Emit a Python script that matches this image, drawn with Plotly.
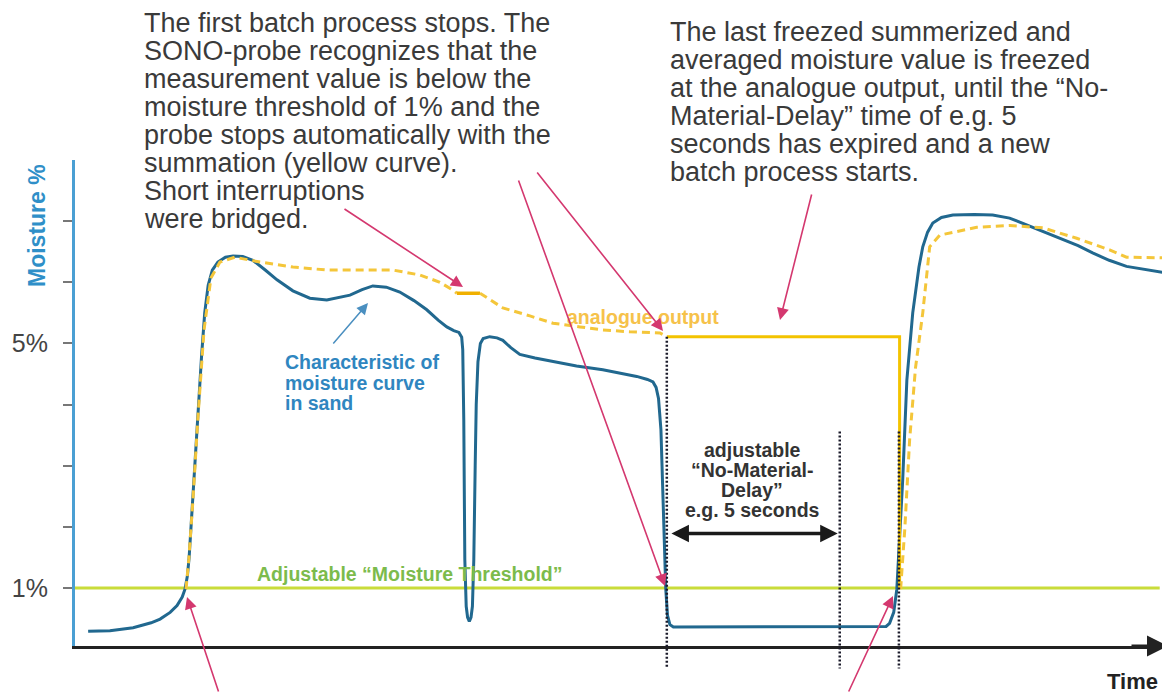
import plotly.graph_objects as go

# ---------------- data (time in seconds, moisture in %) ----------------
blue_t = [0.38, 1.01, 1.68, 2.2, 2.46, 2.75, 2.95, 3.10, 3.18, 3.25, 3.30, 3.38, 3.53, 3.66, 3.75, 3.85,
          3.97, 4.13, 4.35, 4.57, 4.85, 5.14, 5.5, 5.84, 6.3, 6.79, 7.28, 7.95, 8.3, 8.61, 9.0, 9.39,
          9.8, 10.17, 10.5, 10.75, 10.95, 11.10, 11.18, 11.21, 11.24, 11.27, 11.31, 11.35, 11.40, 11.45,
          11.49, 11.53, 11.57, 11.60, 11.65, 11.72, 11.80, 11.99, 12.2, 12.37, 12.6, 12.86, 13.3, 13.82,
          14.5, 15.26, 15.8, 16.24, 16.55, 16.71, 16.80, 16.87, 16.94, 17.02, 17.08, 17.13, 17.20, 17.30,
          20.5, 23.45, 23.55, 23.67, 23.76, 23.85, 23.93, 24.05, 24.22, 24.40, 24.51, 24.65, 24.80, 25.05,
          25.38, 26.0, 26.53, 27.02, 27.7, 28.47, 29.0, 29.42, 29.9, 30.40, 31.0, 31.56]
blue_y = [0.29, 0.30, 0.35, 0.43, 0.49, 0.60, 0.71, 0.85, 0.98, 1.2, 1.5, 2.28, 3.58, 4.8, 5.5, 5.95,
          6.2, 6.33, 6.41, 6.43, 6.42, 6.36, 6.2, 6.04, 5.86, 5.74, 5.71, 5.79, 5.88, 5.94, 5.92, 5.84,
          5.70, 5.55, 5.38, 5.27, 5.21, 5.18, 5.10, 4.9, 3.75, 1.47, 0.7, 0.52, 0.45, 0.52,
          0.7, 1.47, 3.0, 4.0, 4.7, 5.0, 5.08, 5.11, 5.09, 5.05, 4.93, 4.82, 4.76, 4.70,
          4.63, 4.57, 4.51, 4.46, 4.41, 4.37, 4.28, 4.1, 3.59, 2.12, 0.98, 0.55, 0.40, 0.36,
          0.36, 0.37, 0.42, 0.60, 0.98, 1.9, 2.77, 4.40, 5.50, 6.25, 6.58, 6.82, 6.97, 7.06,
          7.10, 7.11, 7.10, 7.05, 6.90, 6.72, 6.60, 6.48, 6.36, 6.26, 6.20, 6.15]

avg1_t = [3.21, 3.29, 3.41, 3.55, 3.73, 3.93, 4.19, 4.62, 5.35, 6.30, 7.28, 8.24, 9.19, 9.97, 10.55, 10.93, 11.04]
avg1_y = [0.98, 1.47, 2.44, 3.75, 5.22, 6.07, 6.33, 6.41, 6.33, 6.25, 6.20, 6.20, 6.20, 6.12, 6.00, 5.87, 5.82]

bridge_t = [11.04, 11.71]
bridge_y = [5.82, 5.82]

avg2_t = [11.71, 12.37, 13.15, 13.82, 14.6, 15.26, 16.04, 16.91, 17.11]
avg2_y = [5.82, 5.58, 5.45, 5.33, 5.27, 5.22, 5.19, 5.17, 5.11]

frozen_t = [17.11, 23.84, 23.84]
frozen_y = [5.11, 5.11, 1.0]

avg3_t = [23.87, 23.99, 24.13, 24.30, 24.51, 24.71, 25.0, 26.07, 27.02, 27.98, 28.96, 29.91, 30.40, 31.56]
avg3_y = [0.98, 1.96, 3.42, 4.6, 5.50, 6.58, 6.77, 6.90, 6.93, 6.89, 6.72, 6.53, 6.41, 6.40]

threshold_t = [0, 31.36]
threshold_y = [1, 1]

marker_t = [17.11, 22.11, 23.82]       # no-material-delay markers
marker_top = [5.11, 3.56, 3.56]
marker_bottom = -0.32
delay_start, delay_end, delay_level = 17.2, 22.05, 1.89

y_tickvals = [1, 2, 3, 4, 5, 6, 7]
y_ticktext = ["1%", "", "", "", "5%", "", ""]

text_left = ["The first batch process stops. The",
             "SONO-probe recognizes that the",
             "measurement value is below the",
             "moisture threshold of 1% and the",
             "probe stops automatically with the",
             "summation (yellow curve).",
             "Short interruptions",
             "were bridged."]
text_right = ["The last freezed summerized and",
              "averaged moisture value is freezed",
              "at the analogue output, until the \u201cNo-",
              "Material-Delay\u201d time of e.g. 5",
              "seconds has expired and a new",
              "batch process starts."]
text_curve = ["Characteristic of", "moisture curve", "in sand"]
text_delay = ["adjustable", "\u201cNo-Material-", "Delay\u201d", "e.g. 5 seconds"]

# ---------------- layout geometry ----------------
OFF = 8                      # page body margin of the html page
W, H = 1170 - OFF, 693 - OFF
ML, MR, MT, MB = 75 - OFF, 2, 160 - OFF, 47
PW, PH = W - ML - MR, H - MT - MB
XMIN, XMAX = 0, 31.6
YMIN, YMAX = 0.05, 8.0

FONT = "Liberation Sans, Arial, sans-serif"
BLUE = "#21688f"
YEL = "#f3c300"
YEL_D = "#f4c63a"
GREEN_L = "#c9dc3a"
GREEN_T = "#7cbb4c"
PINK = "#d4386f"
TXT = "#3a3a3a"


def px(x):
    return (x - OFF - ML) / PW


def py(y):
    return (MT + PH - (y - OFF)) / PH


def yp(v):
    return (v - YMIN) / (YMAX - YMIN)


fig = go.Figure()
fig.add_trace(go.Scatter(x=threshold_t, y=threshold_y, mode="lines",
                         line=dict(color=GREEN_L, width=3)))
fig.add_trace(go.Scatter(x=blue_t, y=blue_y, mode="lines",
                         line=dict(color=BLUE, width=3)))
fig.add_trace(go.Scatter(x=avg1_t, y=avg1_y, mode="lines",
                         line=dict(color=YEL_D, width=3, dash="8px,5px")))
fig.add_trace(go.Scatter(x=bridge_t, y=bridge_y, mode="lines",
                         line=dict(color="#f0b000", width=3.5)))
fig.add_trace(go.Scatter(x=avg2_t, y=avg2_y, mode="lines",
                         line=dict(color=YEL_D, width=3, dash="8px,5px")))
fig.add_trace(go.Scatter(x=frozen_t, y=frozen_y, mode="lines",
                         line=dict(color=YEL, width=3)))
fig.add_trace(go.Scatter(x=avg3_t, y=avg3_y, mode="lines",
                         line=dict(color=YEL_D, width=3, dash="8px,5px")))

shapes = []
for t, top in zip(marker_t, marker_top):
    shapes.append(dict(type="line", xref="x", yref="paper", x0=t, x1=t,
                       y0=yp(top), y1=yp(marker_bottom),
                       line=dict(color="#1a1a2a", width=2.5, dash="2px,2px")))

ann = []
for i, s in enumerate(text_left):
    ann.append(dict(text=s, x=px(142), y=py(23 + 28 * i), xref="paper", yref="paper",
                    xanchor="left", yanchor="middle", showarrow=False,
                    font=dict(family=FONT, size=27, color=TXT)))
for i, s in enumerate(text_right):
    ann.append(dict(text=s, x=px(668), y=py(32 + 28 * i), xref="paper", yref="paper",
                    xanchor="left", yanchor="middle", showarrow=False,
                    font=dict(family=FONT, size=27, color=TXT)))
for i, s in enumerate(text_curve):
    ann.append(dict(text="<b>" + s + "</b>", x=px(283), y=py(362 + 20.5 * i), xref="paper", yref="paper",
                    xanchor="left", yanchor="middle", showarrow=False,
                    font=dict(family=FONT, size=19.5, color="#2f86c0")))
for i, s in enumerate(text_delay):
    ann.append(dict(text="<b>" + s + "</b>", x=px(752), y=py(450 + 20 * i), xref="paper", yref="paper",
                    xanchor="center", yanchor="middle", showarrow=False,
                    font=dict(family=FONT, size=19.5, color="#333333")))

ann.append(dict(text="<b>analogue output</b>", x=px(643), y=py(317), xref="paper", yref="paper",
                xanchor="center", yanchor="middle", showarrow=False,
                font=dict(family=FONT, size=19.5, color="#f6c24a")))
ann.append(dict(text="<b>Adjustable \u201cMoisture Threshold\u201d</b>", x=px(255), y=py(574),
                xref="paper", yref="paper", xanchor="left", yanchor="middle", showarrow=False,
                font=dict(family=FONT, size=19.5, color=GREEN_T)))
ann.append(dict(text="<b>Moisture %</b>", x=px(37), y=py(226), xref="paper", yref="paper",
                xanchor="center", yanchor="middle", textangle=-90, showarrow=False,
                font=dict(family=FONT, size=23, color="#2f8fc8")))
ann.append(dict(text="<b>Time</b>", x=px(1160), y=py(681), xref="paper", yref="paper",
                xanchor="right", yanchor="middle", showarrow=False,
                font=dict(family=FONT, size=22, color="#222222")))


def arrow(tail, tip, color, width, size):
    (tx, ty), (hx, hy) = tail, tip
    return dict(text="", x=px(hx), y=py(hy), xref="paper", yref="paper",
                ax=tx - hx, ay=ty - hy, axref="pixel", ayref="pixel",
                showarrow=True, arrowhead=2, arrowsize=size, arrowwidth=width,
                arrowcolor=color, standoff=0)


# x-axis arrow head
ann.append(arrow((1130, 646), (1168, 646), "#222222", 3, 1.4))
# delay double arrow
ann.append(dict(text="", x=delay_end, y=delay_level, ax=delay_start, ay=delay_level, xref="x", yref="y",
                axref="x", ayref="y", showarrow=True, arrowhead=2, startarrowhead=2, arrowside="end+start",
                arrowsize=1.0, startarrowsize=1.0, arrowwidth=3.5, arrowcolor="#1a1a1a"))

# pink pointer arrows (tail px -> tip px)
pink = [((343, 208), (463, 287)),
        ((518, 179), (665, 586)),
        ((536, 171), (663, 331)),
        ((812, 193), (780, 320)),
        ((219, 693), (187, 597)),
        ((848, 693), (893, 596))]
for tail, tip in pink:
    ann.append(arrow(tail, tip, PINK, 1.6, 1.5))
# blue pointer arrow
ann.append(arrow((332, 345), (368, 303), "#4a8fc0", 1.5, 1.5))

fig.update_layout(
    width=W, height=H,
    margin=dict(l=ML, r=MR, t=MT, b=MB),
    paper_bgcolor="white", plot_bgcolor="white",
    showlegend=False,
    shapes=shapes,
    annotations=ann,
    xaxis=dict(range=[XMIN, XMAX], showline=True, linecolor="#222222", linewidth=3,
               showgrid=False, zeroline=False, showticklabels=False, ticks=""),
    yaxis=dict(range=[YMIN, YMAX], showline=True, linecolor="#4a9fd3", linewidth=3,
               showgrid=False, zeroline=False, ticks="outside", ticklen=9, tickwidth=1.5,
               tickcolor="#777777", tickvals=y_tickvals, ticktext=y_ticktext,
               ticklabelstandoff=10,
               tickfont=dict(family=FONT, size=25, color="#444444")),
)

fig.write_html("out.html")
